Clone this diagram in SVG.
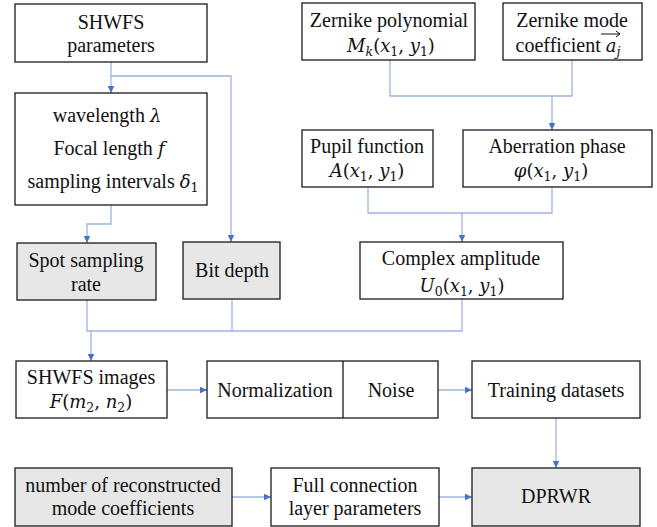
<svg xmlns="http://www.w3.org/2000/svg" width="657" height="527" viewBox="0 0 657 527">
<style>
.b{fill:#fff;stroke:#1a1a1a;stroke-width:1.3}
.g{fill:#e7e7e7;stroke:#1a1a1a;stroke-width:1.3}
text{font-family:'Liberation Serif','Times New Roman',serif;font-size:20px;fill:#111;text-anchor:middle}
.m{font-family:'DejaVu Serif',serif;font-size:18px}
.i{font-style:italic;font-family:'DejaVu Serif',serif;font-size:18px}
.s{font-family:'DejaVu Serif',serif;font-size:12.5px}
.si{font-family:'DejaVu Serif',serif;font-size:12.5px;font-style:italic}
.c{fill:none;stroke:#9db4e2;stroke-width:1.3}
</style>
<defs>
<marker id="ah" markerWidth="8" markerHeight="8" refX="7" refY="4" orient="auto" markerUnits="userSpaceOnUse">
<path d="M0,0.8 L7,4 L0,7.2 Z" fill="#4472c4"/>
</marker>
</defs>
<rect width="657" height="527" fill="#fff"/>
<g id="connectors">
<path class="c" d="M111,62 V93" marker-end="url(#ah)"/>
<path class="c" d="M111,76 H231 V242" marker-end="url(#ah)"/>
<path class="c" d="M111,205 V224 H87 V243" marker-end="url(#ah)"/>
<path class="c" d="M87,300 V331 H462 V299"/>
<path class="c" d="M232,299 V331"/>
<path class="c" d="M91,331 V361" marker-end="url(#ah)"/>
<path class="c" d="M390,60 V96 H572 V60"/>
<path class="c" d="M552,96 V130" marker-end="url(#ah)"/>
<path class="c" d="M368,187 V213 H552 V187"/>
<path class="c" d="M462,213 V242" marker-end="url(#ah)"/>
<path class="c" d="M167,390 H207" marker-end="url(#ah)"/>
<path class="c" d="M438,390 H472" marker-end="url(#ah)"/>
<path class="c" d="M556,418 V468" marker-end="url(#ah)"/>
<path class="c" d="M232,497 H271" marker-end="url(#ah)"/>
<path class="c" d="M439,497 H472" marker-end="url(#ah)"/>
</g>
<g id="shwfs-params">
<rect class="b" x="15" y="4" width="192" height="58"/>
<text x="111" y="29">SHWFS</text>
<text x="111" y="52">parameters</text>
</g>
<g id="optics">
<rect class="b" x="15" y="93" width="192" height="112"/>
<text x="107" y="122">wavelength <tspan class="i">λ</tspan></text>
<text x="109" y="155">Focal length  <tspan class="i">f</tspan></text>
<text x="113" y="188">sampling intervals <tspan class="i">δ</tspan><tspan class="s" dy="4">1</tspan></text>
</g>
<g id="zernike-poly">
<rect class="b" x="302" y="3" width="173" height="57"/>
<text x="389" y="27">Zernike polynomial</text>
<text class="m" x="391" y="52"><tspan class="i">M</tspan><tspan class="si" dy="4">k</tspan><tspan dy="-4">(</tspan><tspan class="i">x</tspan><tspan class="s" dy="4">1</tspan><tspan dy="-4">, </tspan><tspan class="i">y</tspan><tspan class="s" dy="4">1</tspan><tspan dy="-4">)</tspan></text>
</g>
<g id="zernike-coef">
<rect class="b" x="503" y="3" width="139" height="57"/>
<text x="572" y="27">Zernike mode</text>
<text x="568" y="52">coefficient <tspan class="i">a</tspan><tspan class="si" dy="4">j</tspan></text>
<path d="M601,34 H620 M616,31 L620,34 L616,37" fill="none" stroke="#111" stroke-width="1"/>
</g>
<g id="pupil">
<rect class="b" x="302" y="130" width="131" height="57"/>
<text x="367" y="153">Pupil function</text>
<text class="m" x="367" y="177"><tspan class="i">A</tspan>(<tspan class="i">x</tspan><tspan class="s" dy="4">1</tspan><tspan dy="-4">, </tspan><tspan class="i">y</tspan><tspan class="s" dy="4">1</tspan><tspan dy="-4">)</tspan></text>
</g>
<g id="aberration">
<rect class="b" x="463" y="130" width="189" height="57"/>
<text x="557" y="153">Aberration phase</text>
<text class="m" x="551" y="177"><tspan class="i">φ</tspan>(<tspan class="i">x</tspan><tspan class="s" dy="4">1</tspan><tspan dy="-4">, </tspan><tspan class="i">y</tspan><tspan class="s" dy="4">1</tspan><tspan dy="-4">)</tspan></text>
</g>
<g id="spot">
<rect class="g" x="17" y="243" width="139" height="57"/>
<text x="86" y="267">Spot sampling</text>
<text x="86" y="291">rate</text>
</g>
<g id="bitdepth">
<rect class="g" x="183" y="242" width="97" height="57"/>
<text x="232" y="277">Bit depth</text>
</g>
<g id="complex">
<rect class="b" x="360" y="242" width="203" height="57"/>
<text x="461" y="265">Complex amplitude</text>
<text class="m" x="462" y="292"><tspan class="i">U</tspan><tspan class="s" dy="4">0</tspan><tspan dy="-4">(</tspan><tspan class="i">x</tspan><tspan class="s" dy="4">1</tspan><tspan dy="-4">, </tspan><tspan class="i">y</tspan><tspan class="s" dy="4">1</tspan><tspan dy="-4">)</tspan></text>
</g>
<g id="images">
<rect class="b" x="16" y="361" width="151" height="57"/>
<text x="91" y="384">SHWFS images</text>
<text class="m" x="91" y="408"><tspan class="i">F</tspan>(<tspan class="i">m</tspan><tspan class="s" dy="4">2</tspan><tspan dy="-4">, </tspan><tspan class="i">n</tspan><tspan class="s" dy="4">2</tspan><tspan dy="-4">)</tspan></text>
</g>
<g id="norm-noise">
<rect class="b" x="207" y="361" width="231" height="57"/>
<line x1="343" y1="361" x2="343" y2="418" stroke="#1a1a1a" stroke-width="1.3"/>
<text x="275" y="397">Normalization</text>
<text x="391" y="397">Noise</text>
</g>
<g id="training">
<rect class="b" x="472" y="361" width="168" height="57"/>
<text x="556" y="397">Training datasets</text>
</g>
<g id="num-modes">
<rect class="g" x="15" y="468" width="217" height="58"/>
<text x="123" y="492">number of reconstructed</text>
<text x="123" y="515">mode coefficients</text>
</g>
<g id="fc">
<rect class="b" x="271" y="468" width="168" height="58"/>
<text x="355" y="492">Full connection</text>
<text x="355" y="515">layer parameters</text>
</g>
<g id="dprwr">
<rect class="g" x="472" y="468" width="168" height="58"/>
<text x="556" y="503">DPRWR</text>
</g>
</svg>
